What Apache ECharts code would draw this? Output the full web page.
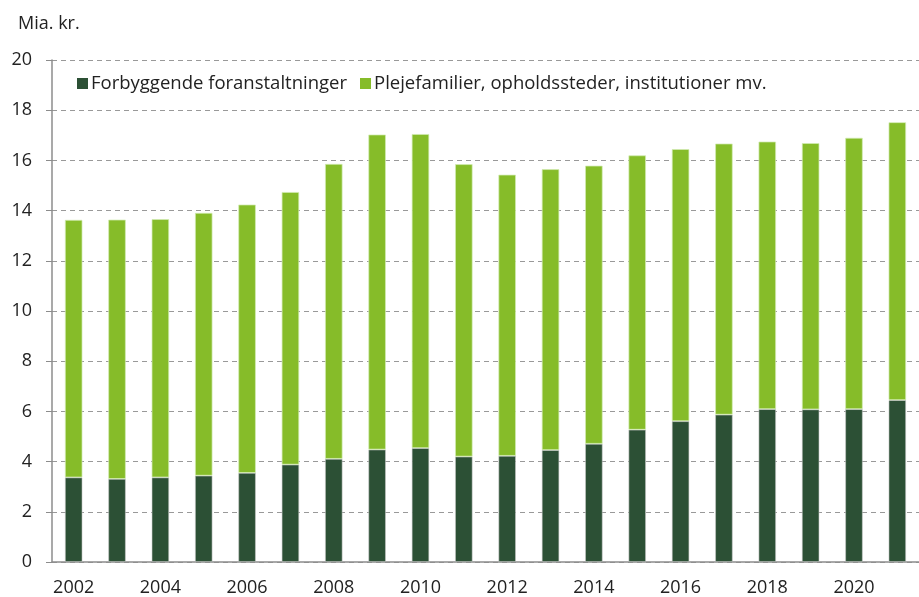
<!DOCTYPE html>
<html>
<head>
<meta charset="utf-8">
<script src="https://cdn.jsdelivr.net/npm/echarts@6/dist/echarts.min.js"></script>
<style>
  html, body { margin: 0; padding: 0; background: #fff; }
  #chart { width: 919px; height: 597px; }
</style>
</head>
<body>
<div id="chart"></div>
<script>
// år
var years = ['2002', '2003', '2004', '2005', '2006', '2007', '2008', '2009', '2010', '2011',
  '2012', '2013', '2014', '2015', '2016', '2017', '2018', '2019', '2020', '2021'];
// Forbyggende foranstaltninger (mia. kr.)
var forbyggende = [3.37, 3.31, 3.37, 3.44, 3.55, 3.88, 4.11, 4.48, 4.54, 4.20,
  4.23, 4.46, 4.71, 5.27, 5.61, 5.87, 6.09, 6.08, 6.09, 6.45];
// samlet (toppen af søjlen)
var samlet = [13.63, 13.64, 13.66, 13.91, 14.24, 14.74, 15.86, 17.03, 17.05, 15.85,
  15.43, 15.65, 15.79, 16.20, 16.45, 16.67, 16.75, 16.69, 16.90, 17.52];
// Plejefamilier mv. = samlet - forbyggende
var plejefamilier = samlet.map(function (v, i) { return +(v - forbyggende[i]).toFixed(2); });

var chart = echarts.init(document.getElementById('chart'));
var fontFam = '"Open Sans", "Noto Sans", sans-serif';

chart.setOption({
  animation: false,
  textStyle: { fontFamily: fontFam },
  title: {
    text: 'Mia. kr.',
    left: 13,
    top: 10,
    textStyle: { fontSize: 18, fontWeight: 'normal', color: '#222', fontFamily: fontFam }
  },
  legend: {
    left: 72,
    top: 69,
    itemWidth: 11,
    itemHeight: 11,
    itemGap: 13,
    icon: 'rect',
    itemStyle: { borderWidth: 0 },
    textStyle: { fontSize: 18.5, color: '#222', fontFamily: fontFam, padding: [0, 0, 0, -2] },
    data: ['Forbyggende foranstaltninger', 'Plejefamilier, opholdssteder, institutioner mv.']
  },
  grid: {
    left: 52,
    right: -7,
    top: 60,
    bottom: 33.5,
    containLabel: false
  },
  xAxis: {
    type: 'category',
    data: years,
    axisLine: { lineStyle: { color: '#8c8c8c', width: 1.5 } },
    axisTick: { interval: 0, length: 6, lineStyle: { color: '#8c8c8c' } },
    axisLabel: { interval: 1, fontSize: 18, color: '#222', margin: 17, fontFamily: fontFam }
  },
  yAxis: {
    type: 'value',
    min: 0,
    max: 20,
    interval: 2,
    axisLine: { show: true, lineStyle: { color: '#8c8c8c', width: 1.5 } },
    axisTick: { show: true, length: 6, lineStyle: { color: '#8c8c8c' } },
    axisLabel: { fontSize: 18, color: '#222', margin: 20, fontFamily: fontFam },
    splitLine: { lineStyle: { color: '#999', type: [5, 4] } }
  },
  series: [
    {
      name: 'Forbyggende foranstaltninger',
      type: 'bar',
      stack: 'total',
      barWidth: 17.5,
      data: forbyggende,
      itemStyle: { color: '#2c5035', borderColor: 'rgba(200,200,200,0.7)', borderWidth: 0.8 }
    },
    {
      name: 'Plejefamilier, opholdssteder, institutioner mv.',
      type: 'bar',
      stack: 'total',
      barWidth: 17.5,
      data: plejefamilier,
      itemStyle: { color: '#86bc29', borderColor: 'rgba(210,235,180,0.9)', borderWidth: 0.8 }
    }
  ]
});
</script>
</body>
</html>
